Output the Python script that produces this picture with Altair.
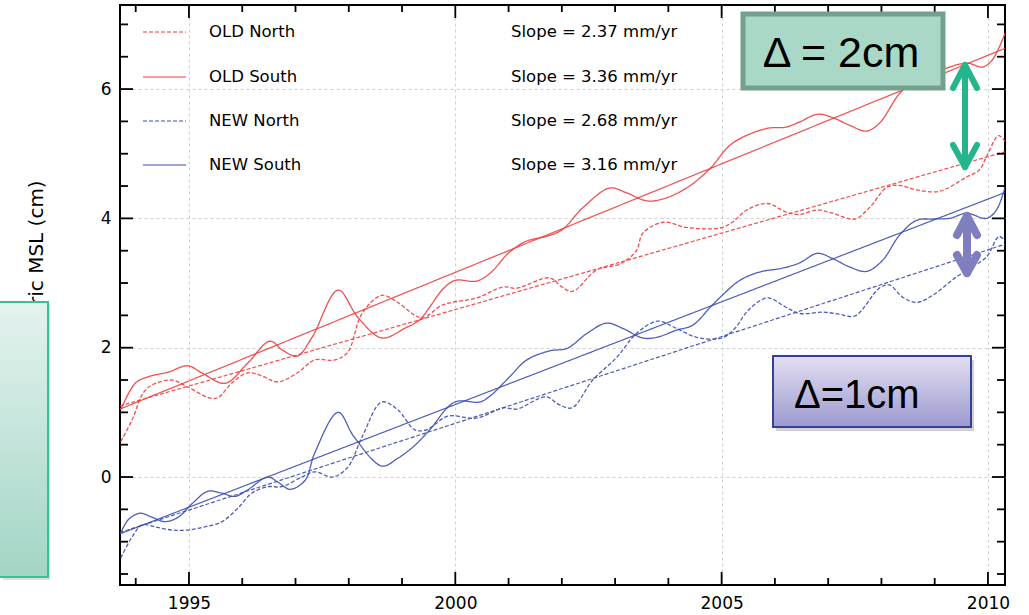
import altair as alt
import pandas as pd

# ---------------- data ----------------
SERIES = ["OLD North", "OLD South", "NEW North", "NEW South"]
SLOPES = ["Slope = 2.37 mm/yr", "Slope = 3.36 mm/yr", "Slope = 2.68 mm/yr", "Slope = 3.16 mm/yr"]

OLD_SOUTH_YR = [1993.72, 1993.99, 1994.23, 1994.6, 1994.98, 1995.24, 1995.68, 1996.1, 1996.52, 1996.76,
                1997.03, 1997.31, 1997.8, 1998.17, 1998.62, 1999.05, 1999.33, 1999.52, 1999.76, 1999.99,
                2000.4, 2000.65, 2001.02, 2001.34, 2001.7, 2002.0, 2002.4, 2002.9, 2003.2, 2003.6,
                2003.9, 2004.34, 2004.77, 2005.2, 2005.84, 2006.2, 2006.46, 2006.8, 2007.08, 2007.4,
                2007.72, 2007.96, 2008.34, 2008.58, 2008.96, 2009.6, 2009.9, 2010.08, 2010.33]
OLD_SOUTH_V = [1.04, 1.45, 1.55, 1.62, 1.72, 1.61, 1.45, 1.76, 2.10, 1.96,
               1.87, 2.16, 2.89, 2.47, 2.15, 2.30, 2.43, 2.63, 2.90, 3.04,
               3.03, 3.15, 3.48, 3.65, 3.72, 3.82, 4.17, 4.47, 4.40, 4.27,
               4.30, 4.47, 4.76, 5.16, 5.39, 5.41, 5.49, 5.61, 5.56, 5.44,
               5.35, 5.47, 5.93, 6.09, 6.24, 6.40, 6.34, 6.45, 6.88]

OLD_NORTH_YR = [1993.72, 1993.93, 1994.14, 1994.3, 1994.68, 1994.98, 1995.4, 1995.55, 1995.8, 1996.1,
                1996.35, 1996.67, 1997.05, 1997.36, 1997.74, 1997.98, 1998.25, 1998.62, 1998.92, 1999.24,
                1999.4, 1999.76, 2000.4, 2000.9, 2001.15, 2001.77, 2002.0, 2002.2, 2002.65, 2003.1,
                2003.4, 2003.52, 2003.9, 2004.34, 2004.96, 2005.2, 2005.47, 2005.86, 2006.2, 2006.46,
                2006.8, 2007.08, 2007.5, 2007.78, 2008.1, 2008.34, 2008.66, 2009.09, 2009.6, 2009.84,
                2009.97, 2010.2, 2010.33]
OLD_NORTH_V = [0.55, 0.88, 1.30, 1.42, 1.50, 1.39, 1.22, 1.23, 1.45, 1.61,
               1.57, 1.47, 1.62, 1.81, 1.81, 1.93, 2.53, 2.81, 2.70, 2.50,
               2.46, 2.66, 2.77, 2.94, 2.92, 3.08, 2.94, 2.87, 3.20, 3.30,
               3.50, 3.77, 3.94, 3.86, 3.85, 3.94, 4.13, 4.23, 4.10, 4.06,
               4.13, 4.08, 3.99, 4.17, 4.48, 4.51, 4.44, 4.42, 4.64, 4.75,
               4.95, 5.28, 5.18]

NEW_SOUTH_YR = [1993.72, 1993.86, 1994.08, 1994.3, 1994.55, 1994.8, 1995.06, 1995.36, 1995.62, 1995.86,
                1996.1, 1996.48, 1996.67, 1996.9, 1997.18, 1997.36, 1997.8, 1998.1, 1998.62, 1998.92,
                1999.24, 1999.52, 1999.99, 2000.46, 2000.65, 2001.02, 2001.34, 2001.77, 2002.1, 2002.47,
                2002.84, 2003.14, 2003.52, 2003.78, 2004.15, 2004.46, 2004.77, 2004.96, 2005.34, 2005.71,
                2006.14, 2006.46, 2006.8, 2007.08, 2007.4, 2007.72, 2008.02, 2008.34, 2008.66, 2008.96,
                2009.28, 2009.6, 2009.97, 2010.16, 2010.33]
NEW_SOUTH_V = [-0.87, -0.66, -0.56, -0.62, -0.69, -0.62, -0.41, -0.22, -0.25, -0.30,
               -0.20, 0.00, -0.08, -0.19, -0.05, 0.37, 1.00, 0.62, 0.17, 0.29,
               0.49, 0.73, 1.16, 1.16, 1.25, 1.55, 1.81, 1.95, 1.99, 2.22,
               2.38, 2.30, 2.15, 2.16, 2.27, 2.35, 2.61, 2.77, 3.04, 3.17,
               3.23, 3.31, 3.46, 3.38, 3.25, 3.18, 3.35, 3.74, 3.97, 3.99,
               4.00, 4.08, 4.00, 4.13, 4.51]

NEW_NORTH_YR = [1993.72, 1993.93, 1994.12, 1994.36, 1994.68, 1994.98, 1995.3, 1995.62, 1995.92, 1996.18,
                1996.48, 1996.74, 1997.12, 1997.36, 1997.7, 1997.98, 1998.25, 1998.62, 1998.92, 1999.24,
                1999.46, 1999.86, 2000.4, 2000.9, 2001.15, 2001.7, 2001.95, 2002.19, 2002.58, 2003.03,
                2003.4, 2003.8, 2004.15, 2004.53, 2005.0, 2005.25, 2005.5, 2005.86, 2006.2, 2006.46,
                2006.9, 2007.2, 2007.5, 2007.96, 2008.15, 2008.4, 2008.66, 2008.96, 2009.4, 2009.7,
                2009.97, 2010.21, 2010.33]
NEW_NORTH_V = [-1.25, -0.93, -0.74, -0.77, -0.82, -0.82, -0.77, -0.69, -0.48, -0.25,
               -0.15, -0.15, 0.00, 0.08, 0.00, 0.15, 0.62, 1.16, 1.04, 0.73,
               0.73, 0.94, 0.91, 1.07, 1.05, 1.24, 1.12, 1.07, 1.50, 1.85,
               2.22, 2.41, 2.30, 2.16, 2.15, 2.30, 2.58, 2.77, 2.63, 2.53,
               2.55, 2.52, 2.49, 2.92, 2.97, 2.78, 2.70, 2.81, 3.09, 3.25,
               3.40, 3.72, 3.64]

# linear fits: end points
FIT_YR = [1993.70, 2010.32]
FIT_V = {"OLD North": [1.10, 5.03], "OLD South": [1.05, 6.63],
         "NEW North": [-0.86, 3.60], "NEW South": [-0.88, 4.40]}

X_LABELS = [1995, 2000, 2005, 2010]
X_MINOR = [1994, 1996, 1997, 1998, 1999, 2001, 2002, 2003, 2004, 2006, 2007, 2008, 2009]
Y_LABELS = [0, 2, 4, 6]
Y_MINOR = [-1.5, -1.0, -0.5, 0.5, 1.0, 1.5, 2.5, 3.0, 3.5, 4.5, 5.0, 5.5, 6.5, 7.0]

# ---------------- layout / style ----------------
W, H = 885, 580
X_DOM = [1993.705, 2010.32]
Y_DOM = [-1.67, 7.30]
RED, BLUE = "#f03c3c", "#3b4cb0"
COLORS = [RED, RED, BLUE, BLUE]
DASHES = [[4, 2], [1, 0], [4, 2], [1, 0]]
FONT = "DejaVu Sans"

xs = alt.Scale(domain=X_DOM, nice=False, zero=False)
ys = alt.Scale(domain=Y_DOM, nice=False, zero=False)

rows = []
for name, yr, vv in [("OLD North", OLD_NORTH_YR, OLD_NORTH_V), ("OLD South", OLD_SOUTH_YR, OLD_SOUTH_V),
                     ("NEW North", NEW_NORTH_YR, NEW_NORTH_V), ("NEW South", NEW_SOUTH_YR, NEW_SOUTH_V)]:
    rows += [{"series": name, "year": a, "val": b} for a, b in zip(yr, vv)]
curves = pd.DataFrame(rows)
fits = pd.DataFrame([{"series": s, "year": a, "val": b} for s in SERIES for a, b in zip(FIT_YR, FIT_V[s])])

xaxis = alt.Axis(values=X_LABELS, format="d", grid=True, gridDash=[3, 3], gridColor="#cfcfcf",
                 ticks=False, domain=False, labelFontSize=17, labelFont=FONT, labelColor="black",
                 labelPadding=10, title=None)
yaxis = alt.Axis(values=Y_LABELS, format="d", grid=True, gridDash=[3, 3], gridColor="#cfcfcf",
                 ticks=False, domain=False, labelFontSize=17, labelFont=FONT, labelColor="black",
                 labelPadding=9, title=None)
color = alt.Color("series:N", scale=alt.Scale(domain=SERIES, range=COLORS), legend=None)
dash = alt.StrokeDash("series:N", scale=alt.Scale(domain=SERIES, range=DASHES), legend=None)

curve_layer = alt.Chart(curves).mark_line(interpolate="catmull-rom", strokeWidth=1.3, clip=True, opacity=0.9).encode(
    x=alt.X("year:Q", scale=xs, axis=xaxis), y=alt.Y("val:Q", scale=ys, axis=yaxis),
    color=color, strokeDash=dash, detail="series:N")
fit_layer = alt.Chart(fits).mark_line(strokeWidth=1.2, clip=True, opacity=0.9).encode(
    x=alt.X("year:Q", scale=xs, axis=xaxis), y=alt.Y("val:Q", scale=ys, axis=yaxis),
    color=color, strokeDash=dash, detail="series:N")

layers = [curve_layer, fit_layer]

# inward ticks on all four sides
def yticks(vals, length):
    df = pd.DataFrame({"v": vals})
    left = alt.Chart(df).mark_rule(color="black", strokeWidth=1.8).encode(
        y=alt.Y("v:Q", scale=ys, axis=yaxis), x=alt.value(0), x2=alt.value(length))
    right = alt.Chart(df).mark_rule(color="black", strokeWidth=1.8).encode(
        y=alt.Y("v:Q", scale=ys, axis=yaxis), x=alt.value(W - length), x2=alt.value(W))
    return [left, right]

def xticks(vals, length):
    df = pd.DataFrame({"v": vals})
    bottom = alt.Chart(df).mark_rule(color="black", strokeWidth=1.8).encode(
        x=alt.X("v:Q", scale=xs, axis=xaxis), y=alt.value(H - length), y2=alt.value(H))
    top = alt.Chart(df).mark_rule(color="black", strokeWidth=1.8).encode(
        x=alt.X("v:Q", scale=xs, axis=xaxis), y=alt.value(0), y2=alt.value(length))
    return [bottom, top]

layers += yticks(Y_LABELS, 13) + yticks(Y_MINOR, 8) + xticks(X_LABELS, 13) + xticks(X_MINOR, 7)

one = pd.DataFrame({"a": [0]})

def rule(x1, y1, x2, y2, col, sw, dsh=None, cap="butt"):
    kw = dict(color=col, strokeWidth=sw, strokeCap=cap)
    if dsh:
        kw["strokeDash"] = dsh
    return alt.Chart(one).mark_rule(**kw).encode(
        x=alt.value(x1), y=alt.value(y1), x2=alt.value(x2), y2=alt.value(y2))

def text(s, x, y, size, align="left", baseline="middle", font=FONT, angle=0, col="black"):
    kw = dict(text=s, fontSize=size, align=align, baseline=baseline, font=font, color=col)
    if angle:
        kw["angle"] = angle
    return alt.Chart(one).mark_text(**kw).encode(x=alt.value(x), y=alt.value(y))

# legend
LEG_Y = [27, 72, 116, 160]
for name, sl, col, d, ly in zip(SERIES, SLOPES, COLORS, DASHES, LEG_Y):
    layers.append(rule(23, ly, 66, ly, col, 1.2, d if d != [1, 0] else None))
    layers.append(text(name, 89, ly, 16.5))
    layers.append(text(sl, 391, ly, 16.5))

def rect(x1, y1, x2, y2, fill, stroke=None, sw=0, opacity=1.0):
    kw = dict(fill=fill, opacity=opacity)
    if stroke:
        kw["stroke"] = stroke
        kw["strokeWidth"] = sw
    return alt.Chart(one).mark_rect(**kw).encode(
        x=alt.value(x1), y=alt.value(y1), x2=alt.value(x2), y2=alt.value(y2))

# green box "Δ = 2cm"
layers.append(rect(623, 9, 823, 83, "#a9d9c6", "#75a08e", 5))
layers.append(text("Δ = 2cm", 721, 62, 43, align="center", baseline="alphabetic", font="Liberation Sans"))

# green double arrow
GA = "#25b58a"
layers += [rule(845, 62, 845, 160, GA, 6, cap="round"),
           rule(845, 60, 833, 83, GA, 6, cap="round"), rule(845, 60, 857, 83, GA, 6, cap="round"),
           rule(845, 162, 833, 140, GA, 6, cap="round"), rule(845, 162, 857, 140, GA, 6, cap="round")]

# purple box "Δ=1cm"
layers.append(rect(656, 355, 854, 426, "#000000", opacity=0.18))
purple_fill = alt.Gradient(gradient="linear", x1=0, x2=0, y1=0, y2=1,
                           stops=[alt.GradientStop(color="#e2dff2", offset=0),
                                  alt.GradientStop(color="#9d99cf", offset=1)])
layers.append(rect(653, 351, 851, 422, purple_fill, "#34409a", 2))
layers.append(text("Δ=1cm", 674, 403, 40, baseline="alphabetic", font="Liberation Sans"))

# purple double arrow
PA = "#7f7fbf"
layers += [rule(847, 214, 847, 266, PA, 8, cap="round"),
           rule(847, 211, 837, 230, PA, 8, cap="round"), rule(847, 211, 857, 230, PA, 8, cap="round"),
           rule(847, 268, 837, 250, PA, 8, cap="round"), rule(847, 268, 857, 250, PA, 8, cap="round")]

# left: partial y-axis title and green box
layers.append(text("ric MSL (cm)", -83, 300, 20, angle=270, align="left"))
layers.append(rect(-117, 299, -70, 575, "#000000", opacity=0.12))
green_fill = alt.Gradient(gradient="linear", x1=0, x2=0, y1=0, y2=1,
                          stops=[alt.GradientStop(color="#e4f3ef", offset=0),
                                 alt.GradientStop(color="#a2d5c5", offset=1)])
layers.append(rect(-125, 297, -72, 572, green_fill, "#3cbf94", 2))

chart = alt.layer(*layers).properties(
    width=W, height=H,
    padding={"left": 120, "top": 5, "right": 24, "bottom": 30},
    autosize=alt.AutoSizeParams(type="none"),
    background="white",
).configure_view(stroke="black", strokeWidth=2)

chart.save("out.html", embed_options={"renderer": "svg", "actions": False})
